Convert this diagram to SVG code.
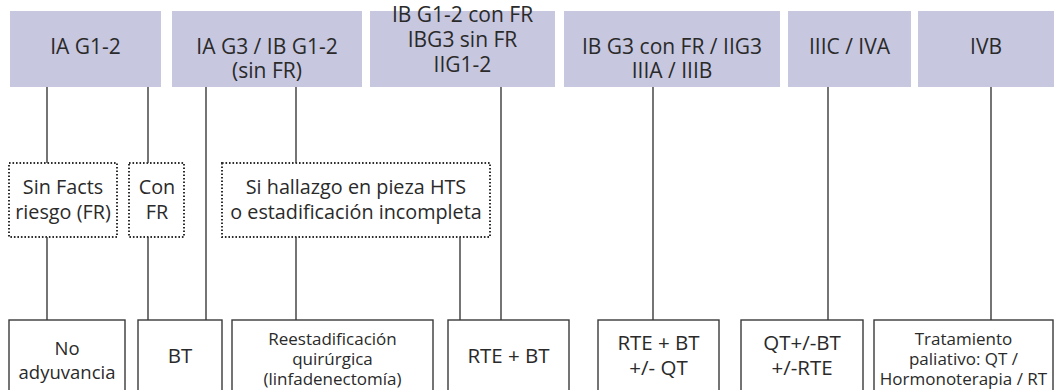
<svg xmlns="http://www.w3.org/2000/svg" width="1054" height="390" viewBox="0 0 1054 390">
  <style>
    .hdr { fill: #c7c7df; stroke: none; }
    .opt { fill: none; stroke: #2e2e2e; stroke-width: 2; stroke-dasharray: 1.6 1.9; }
    .res { fill: #ffffff; stroke: #3a3a3a; stroke-width: 1.4; }
    .ln  { fill: none; stroke: #3a3a3a; stroke-width: 1.4; }
    text { font-family: "Open Sans", "Noto Sans", sans-serif; fill: #2a2a2a; text-anchor: middle; }
    .t  { font-size: 21px; }
    .td { font-size: 19.8px; }
    .tb { font-size: 20.5px; }
    .tl { font-size: 18.5px; }
    .ts { font-size: 17px; }
  </style>
  <rect width="1054" height="390" fill="#ffffff"/>

  <!-- stage headers -->
  <g id="h1"><rect class="hdr" x="10" y="11" width="151" height="76"/>
    <text class="t" x="85.5" y="54">IA G1-2</text></g>
  <g id="h2"><rect class="hdr" x="172" y="11" width="190" height="76"/>
    <text class="t" x="267" y="54">IA G3 / IB G1-2</text>
    <text class="t" x="267" y="78">(sin FR)</text></g>
  <g id="h3"><rect class="hdr" x="370" y="11" width="185" height="76"/>
    <text class="t" x="462.5" y="22">IB G1-2 con FR</text>
    <text class="t" x="462.5" y="47">IBG3 sin FR</text>
    <text class="t" x="462.5" y="72">IIG1-2</text></g>
  <g id="h4"><rect class="hdr" x="564" y="11" width="216" height="76"/>
    <text class="t" x="672" y="54">IB G3 con FR / IIG3</text>
    <text class="t" x="672" y="78">IIIA / IIIB</text></g>
  <g id="h5"><rect class="hdr" x="788" y="11" width="123" height="76"/>
    <text class="t" x="849.5" y="54">IIIC / IVA</text></g>
  <g id="h6"><rect class="hdr" x="918" y="11" width="136" height="76"/>
    <text class="t" x="986" y="54">IVB</text></g>

  <!-- risk-factor branches (dotted) -->
  <g id="o1"><rect class="opt" x="9" y="163" width="108" height="74"/>
    <text class="td" x="63" y="194">Sin Facts</text>
    <text class="td" x="63" y="219">riesgo (FR)</text></g>
  <g id="o2"><rect class="opt" x="129" y="163" width="55" height="74"/>
    <text class="td" x="157" y="194">Con</text>
    <text class="td" x="157" y="219">FR</text></g>
  <g id="o3"><rect class="opt" x="222" y="163" width="268" height="74"/>
    <text class="td" x="356" y="194">Si hallazgo en pieza HTS</text>
    <text class="td" x="356" y="219">o estadificación incompleta</text></g>

  <!-- treatments -->
  <g id="r1"><rect class="res" x="9" y="320" width="116" height="80"/>
    <text class="tl" x="67" y="355">No</text>
    <text class="tl" x="67" y="379">adyuvancia</text></g>
  <g id="r2"><rect class="res" x="138" y="320" width="84" height="80"/>
    <text class="tb" x="180" y="363">BT</text></g>
  <g id="r3"><rect class="res" x="232" y="320" width="201" height="80"/>
    <text class="ts" x="332.5" y="345">Reestadificación</text>
    <text class="ts" x="332.5" y="365">quirúrgica</text>
    <text class="ts" x="332.5" y="385">(linfadenectomía)</text></g>
  <g id="r4"><rect class="res" x="448" y="320" width="121" height="80"/>
    <text class="tb" x="508.5" y="363">RTE + BT</text></g>
  <g id="r5"><rect class="res" x="598" y="320" width="121" height="80"/>
    <text class="tb" x="658.5" y="350">RTE + BT</text>
    <text class="tb" x="658.5" y="375">+/- QT</text></g>
  <g id="r6"><rect class="res" x="741" y="320" width="122" height="80"/>
    <text class="tb" x="802" y="350">QT+/-BT</text>
    <text class="tb" x="802" y="375">+/-RTE</text></g>
  <g id="r7"><rect class="res" x="874" y="320" width="179" height="80"/>
    <text class="ts" x="963.5" y="345">Tratamiento</text>
    <text class="ts" x="963.5" y="365">paliativo: QT /</text>
    <text class="ts" x="963.5" y="385">Hormonoterapia / RT</text></g>

  <!-- connectors -->
  <g id="connectors">
    <line class="ln" x1="47" y1="87" x2="47" y2="163"/>
    <line class="ln" x1="148" y1="87" x2="148" y2="163"/>
    <line class="ln" x1="206" y1="87" x2="206" y2="320"/>
    <line class="ln" x1="296" y1="87" x2="296" y2="163"/>
    <line class="ln" x1="501" y1="87" x2="501" y2="320"/>
    <line class="ln" x1="653" y1="87" x2="653" y2="320"/>
    <line class="ln" x1="828" y1="87" x2="828" y2="320"/>
    <line class="ln" x1="991" y1="87" x2="991" y2="320"/>
    <line class="ln" x1="47" y1="237" x2="47" y2="320"/>
    <line class="ln" x1="148" y1="237" x2="148" y2="320"/>
    <line class="ln" x1="296" y1="237" x2="296" y2="320"/>
    <line class="ln" x1="460" y1="237" x2="460" y2="320"/>
  </g>
</svg>
